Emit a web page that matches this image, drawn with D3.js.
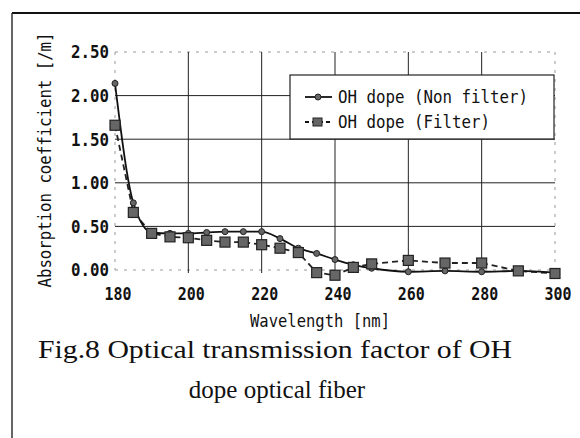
<!DOCTYPE html>
<html>
<head>
<meta charset="utf-8">
<script src="https://cdn.jsdelivr.net/npm/d3@7"></script>
<style>
  body { margin: 0; background: #fff; }
  svg { display: block; }
</style>
</head>
<body>
<svg id="chart" width="580" height="438"></svg>
<script>
// values (nm, 1/m)
const wavelengths = [180, 185, 190, 195, 200, 205, 210, 215, 220, 225, 230, 235, 240, 245, 250, 260, 270, 280, 290, 300];
const nonFilter = [2.14, 0.77, 0.43, 0.42, 0.42, 0.43, 0.44, 0.44, 0.44, 0.36, 0.25, 0.19, 0.12, 0.06, 0.02, -0.02, -0.01, -0.02, -0.01, -0.03];
const withFilter = [1.66, 0.66, 0.42, 0.38, 0.37, 0.34, 0.32, 0.32, 0.29, 0.25, 0.20, -0.03, -0.06, 0.03, 0.07, 0.11, 0.08, 0.08, -0.01, -0.04];
const xTicks = [180, 200, 220, 240, 260, 280, 300];
const yTicks = [0, 0.5, 1.0, 1.5, 2.0, 2.5];
const seriesNames = ["OH dope (Non filter)", "OH dope (Filter)"];

const svg = d3.select("#chart");
const mono = "'DejaVu Sans Mono', monospace";

const x = d3.scaleLinear().domain([180, 300]).range([115, 555]);
const y = d3.scaleLinear().domain([0, 2.5]).range([270, 52]);

// outer frame (top + left only)
svg.append("line").attr("x1", 12).attr("x2", 580).attr("y1", 13).attr("y2", 13)
  .attr("stroke", "#111").attr("stroke-width", 2.2);
svg.append("line").attr("x1", 12).attr("x2", 12).attr("y1", 13).attr("y2", 438)
  .attr("stroke", "#333").attr("stroke-width", 1.5);

// grid
const grid = svg.append("g");
yTicks.forEach(t => {
  const edge = (t === 0 || t === 2.5);
  grid.append("line")
    .attr("x1", x(180)).attr("x2", x(300))
    .attr("y1", y(t)).attr("y2", y(t))
    .attr("stroke", edge ? "#999" : "#222")
    .attr("stroke-width", 1)
    .attr("stroke-dasharray", edge ? "3,6" : null);
});
xTicks.forEach(t => {
  const edge = (t === 180 || t === 300);
  grid.append("line")
    .attr("x1", x(t)).attr("x2", x(t))
    .attr("y1", y(2.5)).attr("y2", y(0) + (edge ? 0 : 3))
    .attr("stroke", edge ? "#999" : "#222")
    .attr("stroke-width", 1)
    .attr("stroke-dasharray", edge ? "3,6" : null);
});

// tick labels
svg.append("g").selectAll("text").data(yTicks).join("text")
  .attr("x", 109).attr("y", d => y(d))
  .attr("dy", "0.36em")
  .attr("text-anchor", "end")
  .attr("font-family", mono).attr("font-weight", "bold").attr("font-size", 18)
  .attr("textLength", 38).attr("lengthAdjust", "spacingAndGlyphs")
  .attr("fill", "#111")
  .text(d => d3.format(".2f")(d));

svg.append("g").selectAll("text").data(xTicks).join("text")
  .attr("x", d => x(d) + 3).attr("y", 294)
  .attr("dy", "0.36em")
  .attr("text-anchor", "middle")
  .attr("font-family", mono).attr("font-weight", "bold").attr("font-size", 18)
  .attr("textLength", 27).attr("lengthAdjust", "spacingAndGlyphs")
  .attr("fill", "#111")
  .text(d => d);

// axis titles
svg.append("text")
  .attr("x", 320).attr("y", 321).attr("dy", "0.36em")
  .attr("text-anchor", "middle")
  .attr("font-family", mono).attr("font-size", 17)
  .attr("textLength", 140).attr("lengthAdjust", "spacingAndGlyphs")
  .attr("fill", "#111")
  .text("Wavelength [nm]");

svg.append("text")
  .attr("transform", "translate(45,160) rotate(-90)")
  .attr("dy", "0.36em")
  .attr("text-anchor", "middle")
  .attr("font-family", mono).attr("font-size", 17)
  .attr("textLength", 255).attr("lengthAdjust", "spacingAndGlyphs")
  .attr("fill", "#111")
  .text("Absorption coefficient [/m]");

// lines
const rows = wavelengths.map((w, i) => ({w: w, a: nonFilter[i], b: withFilter[i]}));

svg.append("path").datum(rows)
  .attr("fill", "none").attr("stroke", "#222").attr("stroke-width", 1.8)
  .attr("stroke-dasharray", "6,4")
  .attr("d", d3.line().x(d => x(d.w)).y(d => y(d.b)));

svg.append("path").datum(rows)
  .attr("fill", "none").attr("stroke", "#111").attr("stroke-width", 1.8)
  .attr("d", d3.line().curve(d3.curveMonotoneX).x(d => x(d.w)).y(d => y(d.a)));

// markers
svg.append("g").selectAll("circle").data(rows).join("circle")
  .attr("cx", d => x(d.w)).attr("cy", d => y(d.a)).attr("r", 3)
  .attr("fill", "#666").attr("stroke", "#222").attr("stroke-width", 1);

svg.append("g").selectAll("rect").data(rows).join("rect")
  .attr("x", d => x(d.w) - 5).attr("y", d => y(d.b) - 5)
  .attr("width", 10).attr("height", 10)
  .attr("fill", "#666").attr("stroke", "#222").attr("stroke-width", 1.2);

// legend
const lg = svg.append("g");
lg.append("rect").attr("x", 290).attr("y", 75).attr("width", 264).attr("height", 64)
  .attr("fill", "#fff").attr("stroke", "#222").attr("stroke-width", 1.2);

seriesNames.forEach((name, i) => {
  const ly = 97 + i * 25;
  lg.append("line").attr("x1", 305).attr("x2", 332).attr("y1", ly).attr("y2", ly)
    .attr("stroke", "#111").attr("stroke-width", 1.8)
    .attr("stroke-dasharray", i === 0 ? null : "4,3");
  if (i === 0) {
    lg.append("circle").attr("cx", 318).attr("cy", ly).attr("r", 3)
      .attr("fill", "#666").attr("stroke", "#222");
  } else {
    lg.append("rect").attr("x", 313).attr("y", ly - 4).attr("width", 9).attr("height", 8)
      .attr("fill", "#666").attr("stroke", "#222");
  }
  lg.append("text").attr("x", 338).attr("y", ly).attr("dy", "0.36em")
    .attr("font-family", mono).attr("font-size", 18)
    .attr("textLength", name.length * 9.5).attr("lengthAdjust", "spacingAndGlyphs")
    .attr("fill", "#111")
    .text(name);
});

// caption
const serif = "'Liberation Serif', 'DejaVu Serif', serif";
svg.append("text")
  .attr("x", 275).attr("y", 358)
  .attr("text-anchor", "middle")
  .attr("font-family", serif).attr("font-size", 25)
  .attr("textLength", 474).attr("lengthAdjust", "spacingAndGlyphs")
  .attr("fill", "#111")
  .text("Fig.8 Optical transmission factor of OH");
svg.append("text")
  .attr("x", 277).attr("y", 398)
  .attr("text-anchor", "middle")
  .attr("font-family", serif).attr("font-size", 25)
  .attr("fill", "#111")
  .text("dope optical fiber");
</script>
</body>
</html>
